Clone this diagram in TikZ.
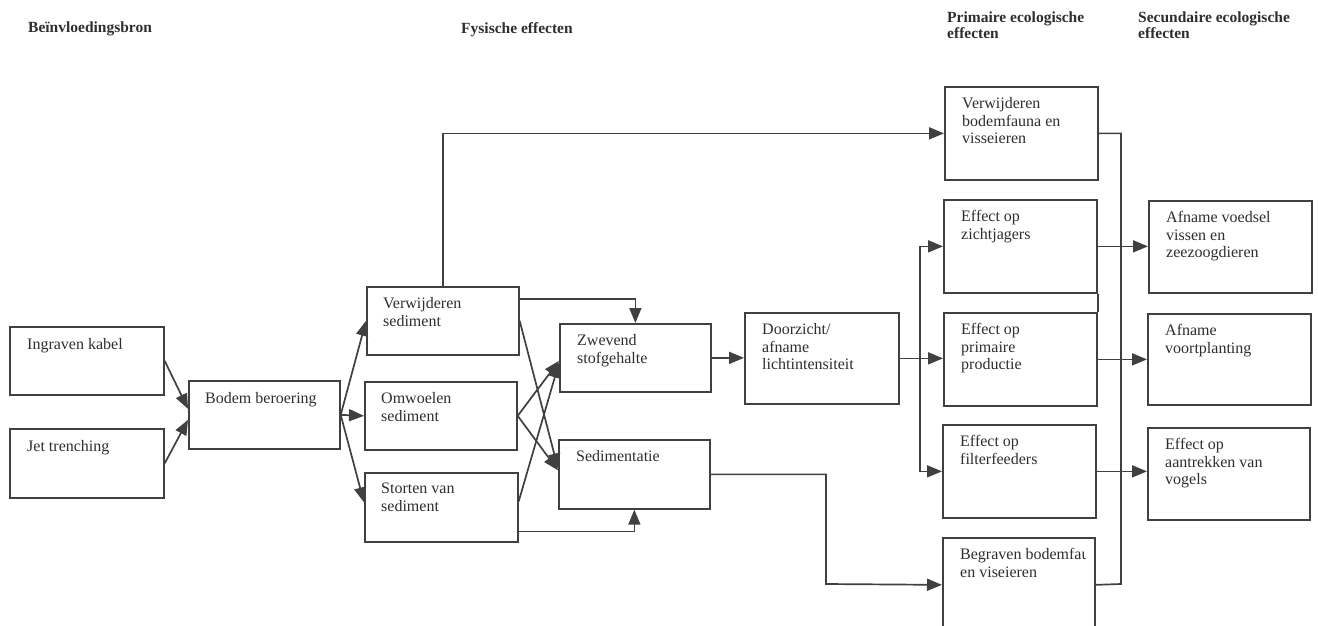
\documentclass[tikz,border=0pt]{standalone}
\usepackage{fontspec}
\setmainfont{Liberation Serif}
\usetikzlibrary{arrows.meta,calc}
\definecolor{lc}{HTML}{404040}
\definecolor{tc}{HTML}{2E2E2E}
\begin{document}
\begin{tikzpicture}[x=1pt,y=-1pt,
  box/.style 2 args={draw=lc, line width=1.7pt, anchor=north west, inner sep=0pt,
    minimum width=#1pt, minimum height=#2pt},
  txt/.style={anchor=north west, inner sep=0pt, align=left, text=tc,
    font=\fontsize{16}{17.7}\selectfont},
  hd/.style={anchor=north west, inner sep=0pt, align=left, text=tc,
    font=\fontsize{15.5}{16}\selectfont\bfseries},
  lin/.style={draw=lc, line width=1.7pt},
  arr/.style={draw=lc, line width=1.7pt, -{Triangle[length=15pt,width=12pt]}}]
\useasboundingbox (0,0) rectangle (1318,625);
\clip (0,0) rectangle (1318,625);

% headers
\node[hd] (h1) at (28,22) {Beïnvloedingsbron};
\node[hd] (h2) at (461,22) {Fysische effecten};
\node[hd] (h3) at (947,12) {Primaire ecologische\\effecten};
\node[hd] (h4) at (1138,12) {Secundaire ecologische\\effecten};

% boxes
\node[box={154}{68}] (ik) at (9,326) {};
\node[txt] (ikt) at ($(ik.north west)+(18,12)$) {Ingraven kabel};
\node[box={154}{69}] (jt) at (9,428) {};
\node[txt] (jtt) at ($(jt.north west)+(18,12)$) {Jet trenching};
\node[box={151}{68}] (bb) at (188,380) {};
\node[txt] (bbt) at ($(bb.north west)+(17,12)$) {Bodem beroering};

\node[box={152}{68}] (vs) at (366,286) {};
\node[txt] (vst) at ($(vs.north west)+(17,11)$) {Verwijderen\\sediment};
\node[box={152}{68}] (os) at (364,381) {};
\node[txt] (ost) at ($(os.north west)+(17,11)$) {Omwoelen\\sediment};
\node[box={153}{69}] (ss) at (364,472) {};
\node[txt] (sst) at ($(ss.north west)+(17,11)$) {Storten van\\sediment};

\node[box={151}{68}] (zs) at (559,323) {};
\node[txt] (zst) at ($(zs.north west)+(18,11)$) {Zwevend\\stofgehalte};
\node[box={151}{69}] (sd) at (558,439) {};
\node[txt] (sdt) at ($(sd.north west)+(18,11)$) {Sedimentatie};

\node[box={154}{91}] (dz) at (744,312) {};
\node[txt] (dzt) at ($(dz.north west)+(18,11)$) {Doorzicht/\\afname\\lichtintensiteit};

\node[box={153}{93}] (vb) at (944,86) {};
\node[txt] (vbt) at ($(vb.north west)+(18,11)$) {Verwijderen\\bodemfauna en\\visseieren};
\node[box={153}{93}] (ez) at (943,199) {};
\node[txt] (ezt) at ($(ez.north west)+(18,11)$) {Effect op\\zichtjagers};
\node[box={153}{93}] (ep) at (943,312) {};
\node[txt] (ept) at ($(ep.north west)+(18,11)$) {Effect op\\primaire\\productie};
\node[box={153}{93}] (ef) at (942,424) {};
\node[txt] (eft) at ($(ef.north west)+(18,11)$) {Effect op\\filterfeeders};
\node[box={152}{94}] (bg) at (942,537) {};
\begin{scope}
\clip (bg.north west) rectangle ($(bg.south east)+(-10,0)$);
\node[txt] (bgt) at ($(bg.north west)+(18,11)$) {Begraven bodemfauna\\en viseieren};
\end{scope}

\node[box={163}{92}] (av) at (1148,200) {};
\node[txt] (avt) at ($(av.north west)+(18,11)$) {Afname voedsel\\vissen en\\zeezoogdieren};
\node[box={163}{91}] (ap) at (1147,313) {};
\node[txt] (apt) at ($(ap.north west)+(18,11)$) {Afname\\voortplanting};
\node[box={162}{92}] (ea) at (1147,427) {};
\node[txt] (eat) at ($(ea.north west)+(18,11)$) {Effect op\\aantrekken van\\vogels};

% connectors
\draw[arr] (ik.east) -- ($(bb.west)+(0,-6)$);
\draw[arr] (jt.east) -- ($(bb.west)+(0,5)$);
\draw[arr] (bb.east) -- (vs.west);
\draw[arr] (bb.east) -- (os.west);
\draw[arr] (bb.east) -- ($(ss.west)+(0,-5)$);

\draw[arr] (vs.north) |- (vb.west);
\draw[arr] ($(vs.east)+(0,-22)$) -| (zs.north);
\draw[arr] ($(ss.east)+(0,24)$) -| (sd.south);
\draw[arr] (vs.east) -- ($(sd.west)+(0,-6)$);
\draw[arr] (os.east) -- ($(zs.west)+(0,3)$);
\draw[arr] (os.east) -- ($(sd.west)+(0,-4)$);
\draw[arr] ($(ss.east)+(0,-6)$) -- ($(zs.west)+(0,5)$);

\draw[arr] (zs.east) -- (dz.west |- zs.east);
\draw[arr] (dz.east) -- (ep.west |- dz.east);
\coordinate (br) at (920,357.5);
\draw[arr] (br) |- (ez.west);
\draw[arr] (br) |- (ef.west);

\coordinate (sdc) at (826,584);
\draw[arr] (sd.east) -| (sdc) -- (bg.west);

\coordinate (bus) at (1121,584);
\draw[lin] (vb.east) -| (bus) -- (bg.east);
\draw[lin] (ez.south east) -- (ep.north east);
\draw[arr] (ez.east) -- (av.west |- ez.east);
\draw[arr] (ep.east) -- (ap.west |- ep.east);
\draw[arr] (ef.east) -- (ea.west |- ef.east);
\end{tikzpicture}
\end{document}
